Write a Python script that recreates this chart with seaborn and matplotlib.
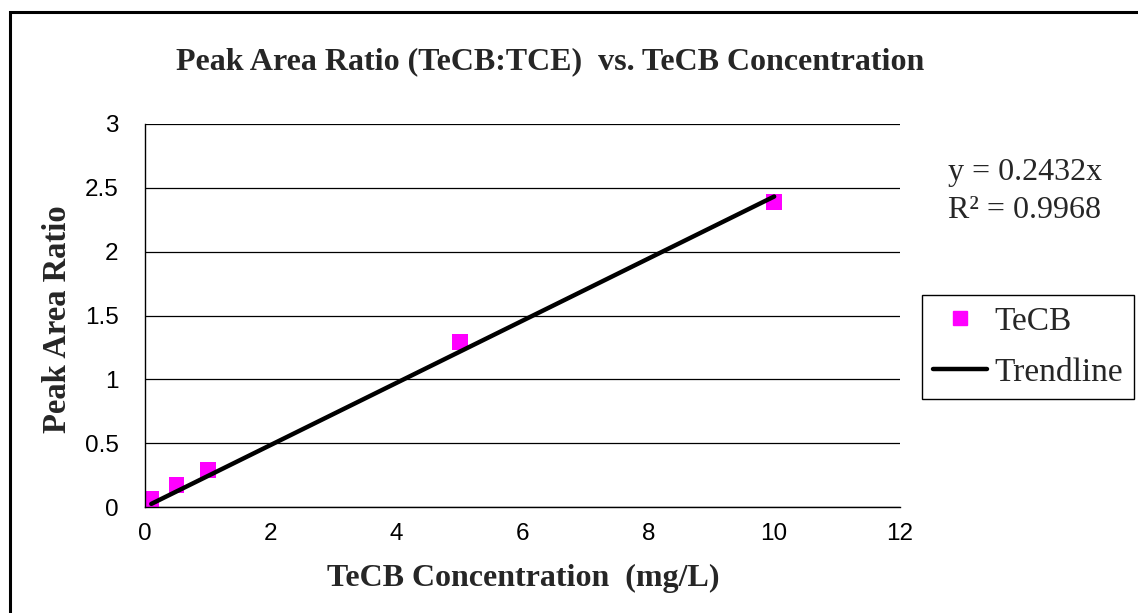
import matplotlib
matplotlib.use("Agg")
import matplotlib.pyplot as plt
from matplotlib.patches import Rectangle
from matplotlib.lines import Line2D
import seaborn as sns
import pandas as pd

# Data
concentration = [0.1, 0.5, 1.0, 5.0, 10.0]
peak_ratio = [0.06, 0.17, 0.29, 1.29, 2.39]
slope = 0.2432
r_squared = 0.9968
trend_x = [0.1, 10.0]
x_ticks = [0, 2, 4, 6, 8, 10, 12]
y_ticks = [0, 0.5, 1, 1.5, 2, 2.5, 3]
y_tick_labels = ["0", "0.5", "1", "1.5", "2", "2.5", "3"]

sns.set_style("white")
plt.rcParams['font.family'] = ['Liberation Sans', 'DejaVu Sans']

fig = plt.figure(figsize=(11.38, 6.13), dpi=100)
ax = fig.add_axes([145/1138, 1-507/613, (900-145)/1138, (507-124)/613])

df = pd.DataFrame({"x": concentration, "y": peak_ratio})
trend_df = pd.DataFrame({"x": trend_x, "y": [slope * v for v in trend_x]})

sns.lineplot(data=trend_df, x="x", y="y", ax=ax, color="black", linewidth=3.2, zorder=3)
sns.scatterplot(data=df, x="x", y="y", ax=ax, marker="s", s=130, color="#FF00FF",
                edgecolor="none", zorder=2, linewidth=0)

ax.set_xlim(0, 12)
ax.set_ylim(0, 3)
ax.set_xticks(x_ticks)
ax.set_yticks(y_ticks)
ax.set_yticklabels(y_tick_labels)
ax.tick_params(axis="both", which="both", direction="out", length=8, width=1,
               color="black", labelsize=17.5, labelcolor="black")
ax.tick_params(axis="y", pad=11)
ax.tick_params(axis="x", pad=3.5)
ax.yaxis.grid(True, color="black", linewidth=0.9)
ax.xaxis.grid(False)
ax.set_axisbelow(True)
for s in ["top", "right"]:
    ax.spines[s].set_visible(False)
for s in ["left", "bottom"]:
    ax.spines[s].set_color("black")
    ax.spines[s].set_linewidth(1.0)

serif = ['Liberation Serif', 'DejaVu Serif']
ax.set_xlabel("TeCB Concentration  (mg/L)", family=serif, fontsize=23, fontweight="bold")
ax.set_ylabel("Peak Area Ratio", family=serif, fontsize=23.5, fontweight="bold")
ax.xaxis.label.set_va("center")
ax.yaxis.label.set_va("center")
ax.xaxis.set_label_coords((523-145)/755, (507-578)/383)
ax.yaxis.set_label_coords((58-145)/755, (507-319)/383)

fig.text(550/1138, 1-62/613, "Peak Area Ratio (TeCB:TCE)  vs. TeCB Concentration",
         family=serif, fontsize=23, fontweight="bold", ha="center", va="center")

fig.text(1025/1138, 1-172/613, f"y = {slope}x", family=serif, fontsize=23, ha="center", va="center")
fig.text(1025/1138, 1-210/613, f"R\u00b2 = {r_squared}", family=serif, fontsize=23, ha="center", va="center")

handles = [
    Line2D([], [], marker="s", linestyle="none", color="#FF00FF", markersize=10, label="TeCB"),
    Line2D([], [], color="black", linewidth=3.2, label="Trendline"),
]
leg = fig.legend(handles=handles, loc="upper left", bbox_to_anchor=(922/1138, 1-295/613),
                 frameon=True, fancybox=False, edgecolor="black", framealpha=1,
                 prop={"family": serif, "size": 24}, handlelength=1.62, handletextpad=0.22,
                 borderpad=0.33, labelspacing=0.62, borderaxespad=0)
leg.get_frame().set_linewidth(1.0)

# outer chart border
fig.patches.append(Rectangle((10/1138, -0.1), 1.2, 1.1 - 12/613, transform=fig.transFigure,
                             fill=False, edgecolor="black", linewidth=2.2, figure=fig))

fig.savefig("out.png", dpi=100, facecolor="white")
